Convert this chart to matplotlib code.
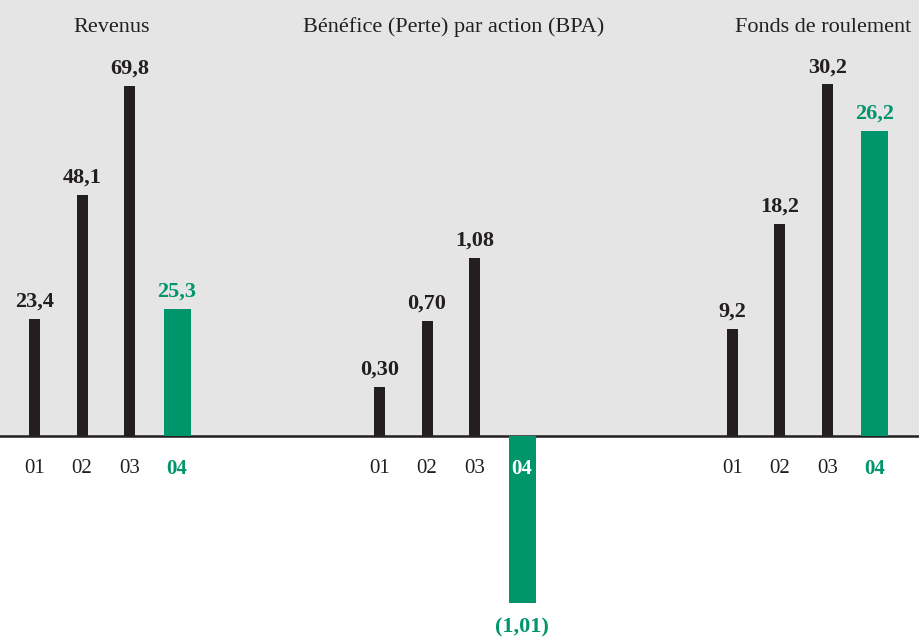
import matplotlib
matplotlib.use("Agg")
import matplotlib.pyplot as plt
from matplotlib.patches import Rectangle

# --- data ---
years = ["01", "02", "03", "04"]
revenus = [23.4, 48.1, 69.8, 25.3]
bpa = [0.30, 0.70, 1.08, -1.01]
fonds_roulement = [9.2, 18.2, 30.2, 26.2]
titles = ["Revenus", "Bénéfice (Perte) par action (BPA)", "Fonds de roulement"]

# --- style ---
W, H = 920, 637
BASE = 436            # baseline, pixels from top
STEP = 47.5           # pixels between bar centres
BLACK = "#231f20"
GREEN = "#00956a"
GRAY = "#e5e5e5"
plt.rcParams["font.family"] = ["Liberation Serif", "DejaVu Serif"]

fig = plt.figure(figsize=(W / 100, H / 100), dpi=100)
fig.patches.append(Rectangle((0, (H - BASE) / H), 1, BASE / H,
                             transform=fig.transFigure, color=GRAY, zorder=-5))


def fmt(v, decimals):
    s = f"{abs(v):.{decimals}f}".replace(".", ",")
    return f"({s})" if v < 0 else s


# (values, decimals, pixels per unit, axes span in px, first bar centre px, title centre px)
panels = [
    (revenus, 1, 5.02, (0, 307), 34.5, 112),
    (bpa, 2, 165.0, (307, 613), 379.5, 454),
    (fonds_roulement, 1, 11.65, (613, 920), 732.5, 823),
]

for (vals, dec, scale, (l, r), x0, tx), title in zip(panels, titles):
    ax = fig.add_axes([l / W, 0, (r - l) / W, 1])
    ax.axis("off")
    ax.set_ylim(-(H - BASE) / scale, BASE / scale)
    ax.set_xlim((l - x0) / STEP, (r - x0) / STEP)
    ax.axhline(0, color=BLACK, lw=1.8, zorder=1)

    idx = list(range(len(vals)))
    ax.bar(idx[:3], vals[:3], width=11 / STEP, color=BLACK, zorder=2)
    ax.bar(idx[3], vals[3], width=27 / STEP, color=GREEN, zorder=2)

    for i, v in enumerate(vals):
        col = GREEN if i == 3 else BLACK
        if v >= 0:
            ax.annotate(fmt(v, dec), (i, v), xytext=(0, 5), textcoords="offset points",
                        ha="center", va="bottom", fontsize=16, fontweight="bold",
                        color=col)
        else:
            ax.annotate(fmt(v, dec), (i, v), xytext=(0, -11), textcoords="offset points",
                        ha="center", va="top", fontsize=16, fontweight="bold",
                        color=col)

    for i, y in enumerate(years):
        if i == 3:
            col = "white" if vals[i] < 0 else GREEN
            kw = dict(fontweight="bold", color=col)
        else:
            kw = dict(color=BLACK)
        ax.annotate(y, (i, 0), xytext=(0, -23.5), textcoords="offset points",
                    ha="center", va="center", fontsize=15, zorder=3, **kw)

    fig.text(tx / W, 1 - 27 / H, title, ha="center", va="center",
             fontsize=16, color=BLACK)

fig.savefig("out.png", dpi=100)
